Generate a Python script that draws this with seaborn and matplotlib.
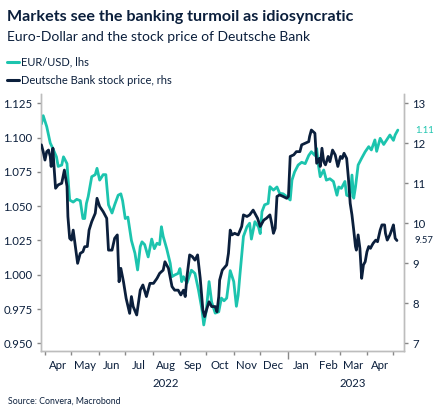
import pandas as pd
import numpy as np
import matplotlib
matplotlib.use("Agg")
import matplotlib.pyplot as plt
import matplotlib.dates as mdates
import matplotlib.transforms as mtransforms
import seaborn as sns

# days counted from 2022-04-01
eur_days = [-4, -2, 2, 6, 9, 13, 15, 19, 21, 25, 26, 28, 32, 36, 40, 43, 45, 47, 49, 53,
            57, 59, 62, 66, 69, 72, 76, 79, 83, 86, 88, 91, 94, 98, 102, 105, 108, 110, 113, 117,
            121, 124, 127, 130, 132, 134, 138, 142, 144, 147, 151, 153, 155, 157, 161, 166, 170, 174, 178, 180,
            183, 186, 189, 193, 197, 200, 203, 206, 210, 214, 217, 219, 221, 225, 229, 232, 234, 238, 242, 244,
            246, 249, 253, 255, 259, 263, 266, 270, 274, 278, 280, 283, 287, 291, 295, 299, 302, 306, 308, 310,
            312, 316, 319, 323, 327, 331, 333, 336, 340, 342, 346, 348, 350, 352, 355, 359, 363, 367, 370, 374,
            376, 380, 384, 387, 391, 395, 397, 400]
eur_usd = [1.110, 1.116, 1.108, 1.096, 1.092, 1.086, 1.079, 1.080, 1.086, 1.081, 1.0715, 1.0545, 1.053, 1.055, 1.054, 1.041, 1.041, 1.052, 1.057, 1.0715,
           1.073, 1.0776, 1.069, 1.073, 1.073, 1.051, 1.045, 1.051, 1.058, 1.059, 1.054, 1.041, 1.042, 1.025, 1.0157, 1.0035, 1.0205, 1.024, 1.022, 1.013,
           1.026, 1.019, 1.023, 1.022, 1.035, 1.028, 1.019, 1.0083, 0.9986, 0.9998, 1.001, 1.0045, 0.995, 0.9986, 0.994, 1.0033, 1.001, 0.989, 0.9744, 0.9634,
           0.9744, 0.995, 0.980, 0.972, 0.973, 0.983, 0.981, 0.983, 1.003, 0.995, 0.977, 0.985, 1.000, 1.028, 1.035, 1.0376, 1.026, 1.0387, 1.035, 1.030,
           1.046, 1.051, 1.052, 1.0642, 1.0617, 1.064, 1.0594, 1.059, 1.057, 1.0545, 1.069, 1.075, 1.080, 1.082, 1.081, 1.087, 1.0897, 1.087, 1.092, 1.080,
           1.0715, 1.0764, 1.069, 1.070, 1.068, 1.058, 1.064, 1.063, 1.068, 1.058, 1.057, 1.0727, 1.0558, 1.064, 1.080, 1.085, 1.0897, 1.0934, 1.091, 1.0983,
           1.090, 1.0995, 1.095, 1.098, 1.1019, 1.098, 1.102, 1.1055]

db_days = [-4, -2, 0, 2, 4, 6, 7, 9, 10, 12, 15, 19, 22, 25, 26, 28, 30, 32, 34, 37,
           40, 43, 45, 48, 50, 53, 57, 59, 62, 66, 70, 72, 76, 79, 82, 84, 86, 89, 92, 96,
           98, 100, 104, 108, 111, 115, 119, 123, 127, 130, 134, 136, 140, 144, 147, 151, 154, 157, 159, 161,
           164, 167, 170, 173, 176, 179, 181, 183, 186, 189, 193, 195, 197, 198, 201, 206, 208, 210, 212, 215,
           219, 223, 225, 229, 232, 236, 238, 241, 244, 248, 251, 255, 257, 259, 261, 263, 266, 270, 274, 276,
           278, 282, 285, 289, 291, 295, 299, 300, 302, 306, 308, 311, 312, 314, 316, 318, 321, 323, 326, 329,
           332, 335, 337, 339, 342, 344, 346, 348, 350, 352, 353, 355, 357, 359, 361, 363, 365, 367, 369, 370,
           372, 375, 377, 380, 382, 385, 386, 388, 391, 393, 395, 397, 399]
db_price = [11.96, 11.79, 11.58, 11.79, 11.83, 11.67, 11.42, 11.875, 11.5, 10.875, 10.96, 11.0, 11.33, 10.92, 10.17, 9.625, 9.58, 9.83, 9.5, 9.0,
            9.25, 9.29, 9.415, 9.42, 9.83, 10.04, 10.25, 10.625, 10.42, 10.29, 10.125, 9.33, 9.33, 9.625, 9.71, 8.54, 8.875, 8.54, 8.125, 7.75,
            8.17, 7.92, 7.71, 8.33, 8.46, 8.17, 8.5, 8.5, 8.625, 8.75, 8.83, 9.04, 8.875, 8.42, 8.33, 8.33, 8.21, 8.33, 8.17, 8.67,
            9.21, 9.17, 9.08, 9.21, 8.625, 7.83, 7.67, 7.83, 8.04, 7.92, 7.92, 7.79, 8.17, 8.58, 8.83, 8.96, 9.25, 9.83, 9.71, 9.75,
            9.71, 9.92, 10.21, 10.17, 10.21, 10.33, 10.25, 10.125, 9.92, 10.08, 10.125, 10.21, 10.0, 9.75, 9.875, 10.67, 10.71, 10.67, 10.625, 10.67,
            11.67, 11.71, 11.79, 11.79, 11.96, 12.0, 12.04, 12.17, 12.33, 12.25, 11.5, 11.62, 11.42, 11.875, 11.54, 11.46, 11.67, 11.54, 11.83, 11.71,
            11.42, 11.67, 11.62, 11.75, 11.62, 11.125, 10.5, 10.21, 9.83, 9.42, 9.33, 9.71, 9.375, 8.625, 8.96, 9.04, 9.29, 9.42, 9.375, 9.42,
            9.5, 9.58, 9.54, 9.83, 9.96, 9.96, 9.75, 9.58, 9.71, 9.83, 9.96, 9.625, 9.57]

eur_ticks = [0.950, 0.975, 1.000, 1.025, 1.050, 1.075, 1.100, 1.125]
db_ticks = [7, 8, 9, 10, 11, 12, 13]
eur_last_label = "1.11"
db_last_label = "9.57"

teal = "#1CC4AE"
navy = "#0B1F3C"
grey = "#BDBDBD"

base = pd.Timestamp("2022-04-01")
eur_df = pd.DataFrame({"date": base + pd.to_timedelta(eur_days, unit="D"), "value": eur_usd})
db_df = pd.DataFrame({"date": base + pd.to_timedelta(db_days, unit="D"), "value": db_price})

sns.set_style("white")
plt.rcParams["font.family"] = ["Lato", "DejaVu Sans"]

fig = plt.figure(figsize=(4.45, 4.16), dpi=100)
ax = fig.add_axes([41 / 445, 65 / 416, 363 / 445, 257 / 416])
ax2 = ax.twinx()

sns.lineplot(data=eur_df, x="date", y="value", color=teal, lw=2.0, ax=ax, zorder=3)
sns.lineplot(data=db_df, x="date", y="value", color=navy, lw=2.0, ax=ax2, zorder=3)

ax.set_xlim(base - pd.Timedelta(days=4.5), base + pd.Timedelta(days=407))
ax.set_ylim(0.9444, 1.1318)
ax2.set_ylim(6.81, 13.23)
ax.set_yticks(eur_ticks)
ax.set_yticklabels([f"{t:.3f}" for t in eur_ticks])
ax2.set_yticks(db_ticks)
ax.set_xlabel("")
ax.set_ylabel("")
ax2.set_ylabel("")

for a in (ax, ax2):
    for s in a.spines.values():
        s.set_color(grey)
        s.set_linewidth(1.0)
    a.spines["top"].set_visible(False)
ax.tick_params(axis="y", left=True, length=3, width=1, color="#888888", labelsize=8.2,
               labelcolor=navy, pad=3)
ax2.tick_params(axis="y", right=True, length=3, width=1, color="#888888", labelsize=8.2,
                labelcolor=navy, pad=3)

# month ticks at month starts, labels in mid-month
ax.xaxis.set_major_locator(mdates.MonthLocator(bymonth=1))
ax.xaxis.set_major_formatter(mdates.DateFormatter(""))
ax.xaxis.set_minor_locator(mdates.MonthLocator(bymonthday=1))
ax.tick_params(axis="x", which="major", bottom=True, length=6, width=1, color="#888888")
ax.tick_params(axis="x", which="minor", bottom=True, length=3, width=1, color="#888888")
months = pd.date_range("2022-04-01", "2023-04-01", freq="MS")
trans = mtransforms.blended_transform_factory(ax.transData, ax.transAxes)
for m in months:
    mid = m + pd.Timedelta(days=15)
    ax.text(mdates.date2num(mid), -0.035, m.strftime("%b"), transform=trans,
            ha="center", va="top", fontsize=8.2, color=navy)
ax.text(mdates.date2num(pd.Timestamp("2022-08-16")), -0.105, "2022", transform=trans,
        ha="center", va="top", fontsize=8.2, color=navy)
ax.text(mdates.date2num(pd.Timestamp("2023-03-16")), -0.105, "2023", transform=trans,
        ha="center", va="top", fontsize=8.2, color=navy)

# end-of-series labels
ax2.text(1.03, ax.transLimits.transform((0, eur_usd[-1]))[1], eur_last_label,
         transform=ax.transAxes, fontsize=6.8, color=teal, va="center", ha="left")
ax2.text(1.03, ax2.transLimits.transform((0, db_price[-1]))[1], db_last_label,
         transform=ax.transAxes, fontsize=6.8, color=navy, va="center", ha="left")

# titles and legend
fig.text(7 / 445, 1 - 17 / 416, "Markets see the banking turmoil as idiosyncratic",
         fontsize=11.6, fontweight="bold", color=navy, va="center", ha="left")
fig.text(7 / 445, 1 - 37 / 416, "Euro-Dollar and the stock price of Deutsche Bank",
         fontsize=10, color=navy, va="center", ha="left")
for yy, col, lab in [(62, teal, "EUR/USD, lhs"), (80, navy, "Deutsche Bank stock price, rhs")]:
    fig.lines.append(plt.Line2D([7 / 445, 19 / 445], [1 - yy / 416, 1 - yy / 416],
                                color=col, lw=2.2, transform=fig.transFigure))
    fig.text(21 / 445, 1 - yy / 416, lab, fontsize=8, color=navy, va="center", ha="left")

fig.text(8 / 445, 1 - 401 / 416, "Source: Convera, Macrobond", fontsize=6.3,
         color=navy, va="center", ha="left")

fig.savefig("out.png", dpi=100)
